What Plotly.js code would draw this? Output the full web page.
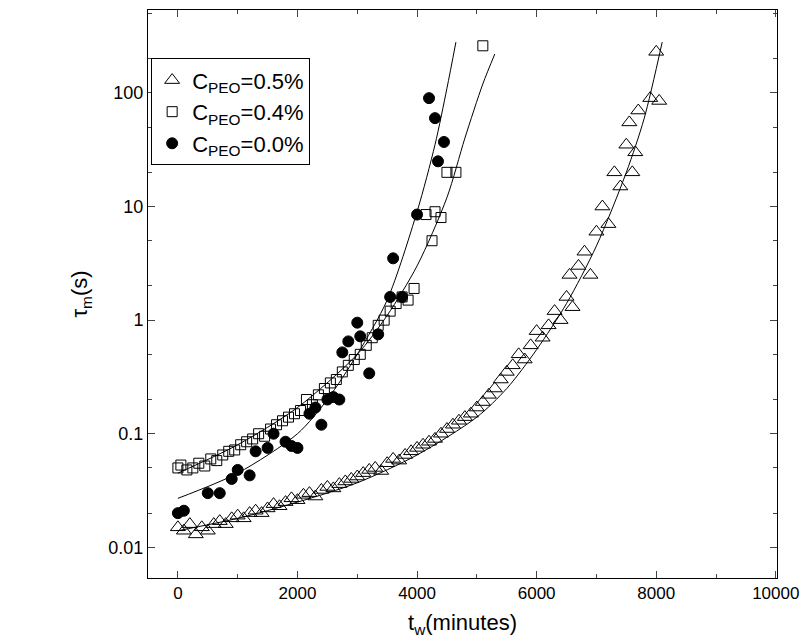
<!DOCTYPE html>
<html><head><meta charset="utf-8">
<script src="https://cdn.plot.ly/plotly-3.0.1.min.js"></script>
<style>body{margin:0;background:#fff}</style></head>
<body><div id="chart" style="width:801px;height:642px"></div>
<script>
// C_PEO = 0.5 %
const triX = [0, 100, 200, 300, 400, 500, 600, 700, 800, 900, 1000, 1100, 1200, 1300, 1400, 1500, 1600, 1700, 1800, 1900, 2000, 2100, 2200, 2300, 2400, 2500, 2600, 2700, 2800, 2900, 3000, 3100, 3200, 3300, 3400, 3500, 3600, 3700, 3800, 3900, 4000, 4100, 4200, 4300, 4400, 4500, 4600, 4700, 4800, 4900, 5000, 5100, 5200, 5300, 5400, 5500, 5600, 5700, 5800, 5900, 6000, 6100, 6200, 6300, 6400, 6500, 6550, 6600, 6700, 6800, 6900, 7000, 7100, 7200, 7300, 7400, 7500, 7550, 7600, 7650, 7700, 7900, 8000, 8050];
const triY = [0.015, 0.014, 0.016, 0.013, 0.015, 0.014, 0.016, 0.017, 0.016, 0.018, 0.019, 0.018, 0.02, 0.021, 0.02, 0.022, 0.024, 0.023, 0.025, 0.027, 0.026, 0.029, 0.03, 0.028, 0.032, 0.034, 0.033, 0.036, 0.038, 0.04, 0.042, 0.045, 0.048, 0.05, 0.047, 0.055, 0.06, 0.058, 0.065, 0.07, 0.075, 0.08, 0.085, 0.09, 0.1, 0.11, 0.12, 0.13, 0.14, 0.15, 0.17, 0.19, 0.22, 0.25, 0.3, 0.35, 0.4, 0.5, 0.45, 0.6, 0.8, 0.7, 0.9, 1.2, 1.0, 1.6, 2.5, 1.3, 3.0, 4.0, 2.5, 6.0, 10, 7.0, 20, 15, 35, 55, 20, 30, 70, 90, 230, 85];
// C_PEO = 0.4 %
const sqX = [0, 50, 150, 250, 350, 450, 550, 650, 750, 850, 950, 1050, 1150, 1250, 1350, 1450, 1550, 1650, 1750, 1850, 1950, 2050, 2150, 2250, 2350, 2450, 2550, 2650, 2750, 2850, 2950, 3050, 3150, 3250, 3350, 3450, 3550, 3650, 3750, 3850, 3950, 4150, 4250, 4300, 4400, 4500, 4650, 5100];
const sqY = [0.05, 0.053, 0.048, 0.05, 0.055, 0.052, 0.06, 0.058, 0.065, 0.07, 0.072, 0.08, 0.085, 0.09, 0.1, 0.095, 0.11, 0.12, 0.13, 0.14, 0.15, 0.16, 0.2, 0.18, 0.22, 0.25, 0.28, 0.3, 0.35, 0.4, 0.45, 0.5, 0.6, 0.7, 0.9, 1.0, 1.2, 1.4, 1.6, 1.5, 1.9, 8.5, 5.0, 9.0, 8.0, 20, 20, 260];
// C_PEO = 0.0 %
const cirX = [0, 100, 500, 700, 900, 1000, 1200, 1300, 1500, 1600, 1800, 1900, 2000, 2200, 2300, 2400, 2500, 2600, 2700, 2750, 2850, 3000, 3050, 3200, 3350, 3550, 3600, 3750, 4000, 4200, 4300, 4350, 4450];
const cirY = [0.02, 0.021, 0.03, 0.03, 0.04, 0.048, 0.043, 0.07, 0.075, 0.1, 0.085, 0.078, 0.075, 0.15, 0.17, 0.12, 0.2, 0.21, 0.2, 0.52, 0.65, 0.95, 0.72, 0.34, 0.75, 1.6, 3.5, 1.6, 8.5, 90, 60, 25, 37];
// fitted curves
const fitTriX = [0, 1000, 2000, 3000, 4000, 5000, 5500, 6000, 6500, 7000, 7500, 7800, 8100];
const fitTriY = [0.014, 0.018, 0.025, 0.037, 0.065, 0.14, 0.25, 0.55, 1.4, 4.5, 20, 60, 280];
const fitSqX = [0, 1000, 2000, 3000, 3500, 4000, 4500, 4800, 5100, 5300];
const fitSqY = [0.045, 0.08, 0.17, 0.5, 1.1, 3.0, 12, 40, 120, 220];
const fitCirX = [0, 1000, 2000, 2500, 3000, 3500, 4000, 4300, 4500, 4650];
const fitCirY = [0.027, 0.045, 0.1, 0.2, 0.5, 1.5, 9, 35, 110, 280];

const line = { color: '#000', width: 1, shape: 'spline', smoothing: 0.8 };
const fit = (x, y) => ({ x, y, mode: 'lines', line, showlegend: false, hoverinfo: 'skip' });
const pts = (x, y, name, symbol, size) => ({
  x, y, name, mode: 'markers',
  marker: { symbol, size, color: '#000', line: { color: '#000', width: 1 } },
});

Plotly.newPlot('chart', [
  fit(fitTriX, fitTriY), fit(fitSqX, fitSqY), fit(fitCirX, fitCirY),
  pts(triX, triY, 'C<sub>PEO</sub>=0.5%', 'triangle-up-open', 13),
  pts(sqX, sqY, 'C<sub>PEO</sub>=0.4%', 'square-open', 10),
  pts(cirX, cirY, 'C<sub>PEO</sub>=0.0%', 'circle', 11),
], {
  width: 801, height: 642,
  paper_bgcolor: '#fff', plot_bgcolor: '#fff',
  font: { family: 'Liberation Sans, Arial, sans-serif', size: 18, color: '#000' },
  margin: { l: 148, r: 24, t: 10, b: 64 },
  xaxis: {
    range: [-500, 10020], tickvals: [0, 2000, 4000, 6000, 8000, 10000],
    ticktext: ['0', '2000', '4000', '6000', '8000', '10000'], ticklabeloverflow: 'allow',
    tickfont: { size: 17 },
    ticks: 'inside', ticklen: 7, mirror: 'allticks', showline: true, linecolor: '#000', linewidth: 1,
    showgrid: false, zeroline: false, minor: { ticks: 'inside', ticklen: 4, dtick: 1000 },
    title: { text: 't<sub>w</sub>(minutes)', font: { size: 22 }, standoff: 12 },
  },
  yaxis: {
    type: 'log', range: [-2.27, 2.73],
    tickvals: [0.01, 0.1, 1, 10, 100], ticktext: ['0.01', '0.1', '1', '10', '100'],
    ticks: 'inside', ticklen: 7, mirror: 'allticks', showline: true, linecolor: '#000', linewidth: 1,
    showgrid: false, zeroline: false, minor: { ticks: 'inside', ticklen: 4 },
    title: { text: 'τ<sub>m</sub>(s)', font: { size: 22 }, standoff: 14 },
  },
  legend: {
    x: 0.005, y: 0.915, xanchor: 'left', yanchor: 'top',
    bordercolor: '#000', borderwidth: 1, bgcolor: '#fff',
    font: { size: 22 },
  },
}, { displayModeBar: false });
</script></body></html>
